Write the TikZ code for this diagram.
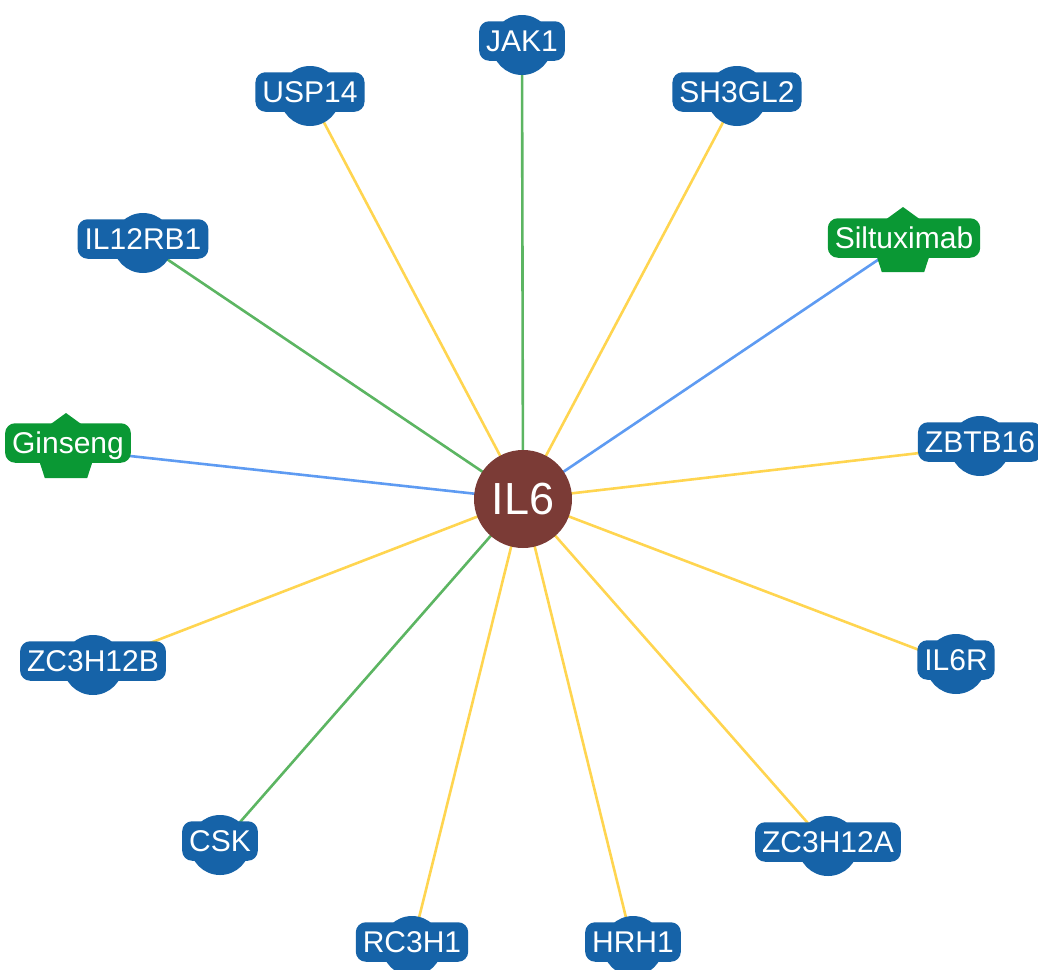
\documentclass[tikz,border=0pt]{standalone}
\usepackage{fontspec}
\setmainfont{Liberation Sans}
\usetikzlibrary{shapes.geometric,backgrounds}
\definecolor{nodeblue}{RGB}{22,99,168}
\definecolor{nodegreen}{RGB}{10,152,52}
\definecolor{hubbrown}{RGB}{123,59,54}
\definecolor{edgeyellow}{RGB}{255,213,80}
\definecolor{edgegreen}{RGB}{92,181,98}
\definecolor{edgeblue}{RGB}{94,155,242}
\tikzset{
  gene/.style={circle,fill=nodeblue,minimum size=60pt,inner sep=0pt},
  drug/.style={regular polygon,regular polygon sides=5,fill=nodegreen,minimum size=72pt,inner sep=0pt},
  lab/.style={rounded corners=10pt,text=white,font=\fontsize{30}{30}\selectfont,text height=21.5pt,text depth=0pt,inner xsep=7pt,inner ysep=9pt},
  glab/.style={lab,fill=nodeblue},
  dlab/.style={lab,fill=nodegreen},
  hub/.style={circle,fill=hubbrown,minimum size=98pt,inner sep=0pt,text=white,font=\fontsize{45}{45}\selectfont},
  ey/.style={draw=edgeyellow,line width=2.6pt},
  eg/.style={draw=edgegreen,line width=2.6pt},
  eb/.style={draw=edgeblue,line width=2.6pt}
}
\begin{document}
\begin{tikzpicture}[x=1pt,y=-1pt]
\useasboundingbox (0,0) rectangle (1038,969);
\node[hub] (il6) at (523,499) {IL6};
% blue gene nodes
\node[gene] (jak1) at (522,45) {};
\node[glab] at ([yshift=4pt]jak1.center) {JAK1};
\node[gene] (usp14) at (310,96) {};
\node[glab] at ([yshift=4pt]usp14.center) {USP14};
\node[gene] (sh3gl2) at (737,96) {};
\node[glab] at ([yshift=4pt]sh3gl2.center) {SH3GL2};
\node[gene] (il12rb1) at (143,243) {};
\node[glab] at ([yshift=4pt]il12rb1.center) {IL12RB1};
\node[gene] (zbtb16) at (980,446) {};
\node[glab] at ([yshift=4pt]zbtb16.center) {ZBTB16};
\node[gene] (zc3h12b) at (93,665) {};
\node[glab] at ([yshift=4pt]zc3h12b.center) {ZC3H12B};
\node[gene] (il6r) at (956,664) {};
\node[glab] at ([yshift=4pt]il6r.center) {IL6R};
\node[gene] (csk) at (220,845) {};
\node[glab] at ([yshift=4pt]csk.center) {CSK};
\node[gene] (zc3h12a) at (828,846) {};
\node[glab] at ([yshift=4pt]zc3h12a.center) {ZC3H12A};
\node[gene] (rc3h1) at (412,946) {};
\node[glab] at ([yshift=4pt]rc3h1.center) {RC3H1};
\node[gene] (hrh1) at (633,946) {};
\node[glab] at ([yshift=4pt]hrh1.center) {HRH1};
% green drug nodes
\node[drug] (silt) at (903,243) {};
\node[dlab] at ([xshift=1pt,yshift=5pt]silt.center) {Siltuximab};
\node[drug] (gins) at (66,449) {};
\node[dlab] at ([xshift=2pt,yshift=6pt]gins.center) {Ginseng};
\begin{pgfonlayer}{background}
\draw[eg] (il6.center) -- (jak1.center);
\draw[ey] (il6.center) -- (usp14.center);
\draw[ey] (il6.center) -- (sh3gl2.center);
\draw[eg] (il6.center) -- (il12rb1.center);
\draw[eb] (il6.center) -- (silt.center);
\draw[eb] (il6.center) -- (gins.center);
\draw[ey] (il6.center) -- (zbtb16.center);
\draw[ey] (il6.center) -- (zc3h12b.center);
\draw[ey] (il6.center) -- (il6r.center);
\draw[eg] (il6.center) -- (csk.center);
\draw[ey] (il6.center) -- (zc3h12a.center);
\draw[ey] (il6.center) -- (rc3h1.center);
\draw[ey] (il6.center) -- (hrh1.center);
\end{pgfonlayer}
\end{tikzpicture}
\end{document}
